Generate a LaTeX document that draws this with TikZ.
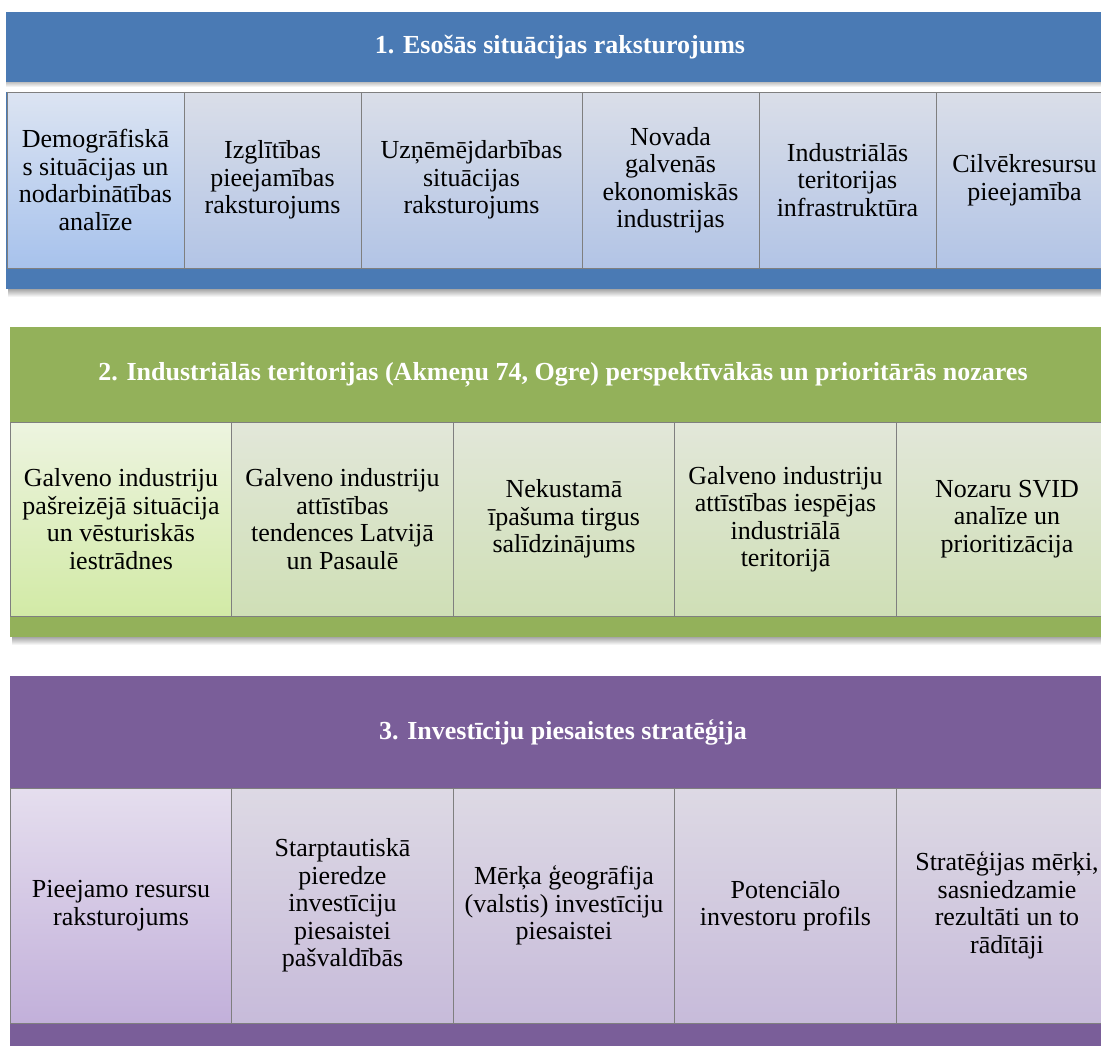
\documentclass[tikz,border=0pt]{standalone}
\usepackage{fontspec}
\setmainfont{LiberationSerif}[Extension=.ttf, UprightFont=*-Regular, BoldFont=*-Bold, ItalicFont=*-Italic, BoldItalicFont=*-BoldItalic]
\definecolor{hblue}{HTML}{4A7AB4}
\definecolor{hgreen}{HTML}{93B15A}
\definecolor{hpurple}{HTML}{7A5E99}
\definecolor{cellline}{HTML}{7F7F7F}
\definecolor{bAt}{HTML}{DCE4F2}\definecolor{bAb}{HTML}{A7C2EC}
\definecolor{bBt}{HTML}{DADEE8}\definecolor{bBb}{HTML}{B2C4E6}
\definecolor{gAt}{HTML}{EDF4E0}\definecolor{gAb}{HTML}{D2EAA6}
\definecolor{gBt}{HTML}{E2E7D9}\definecolor{gBb}{HTML}{CFDFB6}
\definecolor{pAt}{HTML}{E5DEEE}\definecolor{pAb}{HTML}{C2B0DA}
\definecolor{pBt}{HTML}{DDD9E4}\definecolor{pBb}{HTML}{C7BBDA}
\begin{document}
\begin{tikzpicture}[x=1pt,y=-1pt,
  cell/.style={draw=cellline, line width=0.8pt, align=center, inner sep=0pt,
    font=\fontsize{26}{27.5}\selectfont, text=black},
  c1/.style={cell, minimum height=176pt},
  c2/.style={cell, minimum height=194pt, minimum width=221.5pt},
  c3/.style={cell, minimum height=235pt, minimum width=221.5pt},
  blueA/.style={top color=bAt, bottom color=bAb},
  blueB/.style={top color=bBt, bottom color=bBb},
  greenA/.style={top color=gAt, bottom color=gAb},
  greenB/.style={top color=gBt, bottom color=gBb},
  purpA/.style={top color=pAt, bottom color=pAb},
  purpB/.style={top color=pBt, bottom color=pBb},
  head/.style={align=center, inner sep=0pt, text=white,
    font=\fontsize{26}{30}\selectfont\bfseries},
  shade/.style={top color=black!35, bottom color=white, draw=none}]
\clip (0,0) rectangle (1101,1045);
\fill[white] (0,0) rectangle (1101,1045);

% ---------- panel 1 ----------
\path[shade] (8,289) rectangle (1120,297);
\fill[hblue] (6,12) rectangle (1114,289);
\fill[white] (6,82) rectangle (1114,92);
\path[top color=black!25, bottom color=white] (6,82) rectangle (1114,87);
\node[head] (h1) at (560,47) {1. Esošās situācijas raksturojums};
\node[c1, blueA, minimum width=177pt] (a1) at (95.5,180) {Demogrāfiskā\\s situācijas un\\nodarbinātības\\analīze};
\node[c1, blueB, minimum width=177pt] (a2) at (272.5,180) {Izglītības\\pieejamības\\raksturojums};
\node[c1, blueB, minimum width=221pt] (a3) at (471.5,180) {Uzņēmējdarbības\\situācijas\\raksturojums};
\node[c1, blueB, minimum width=177pt] (a4) at (670.5,180) {Novada\\galvenās\\ekonomiskās\\industrijas};
\node[c1, blueB, minimum width=177pt] (a5) at (847.5,180) {Industriālās\\teritorijas\\infrastruktūra};
\node[c1, blueB, minimum width=177pt] (a6) at (1024.5,180) {Cilvēkresursu\\pieejamība};

% ---------- panel 2 ----------
\path[shade] (12,637) rectangle (1120,645);
\fill[hgreen] (10,327) rectangle (1117,637);
\node[head] (h2) at (563,374.5) {2. Industriālās teritorijas (Akmeņu 74, Ogre) perspektīvākās un prioritārās nozares};
\node[c2, greenA] (b1) at (121,519) {Galveno industriju\\pašreizējā situācija\\un vēsturiskās\\iestrādnes};
\node[c2, greenB] (b2) at (342.5,519) {Galveno industriju\\attīstības\\tendences Latvijā\\un Pasaulē};
\node[c2, greenB] (b3) at (564,519) {Nekustamā\\īpašuma tirgus\\salīdzinājums};
\node[c2, greenB] (b4) at (785.5,519) {Galveno industriju\\attīstības iespējas\\industriālā\\teritorijā};
\node[c2, greenB] (b5) at (1007,519) {Nozaru SVID\\analīze un\\prioritizācija};

% ---------- panel 3 ----------
\fill[hpurple] (10,676) rectangle (1117,1060);
\node[head] (h3) at (563,732.5) {3. Investīciju piesaistes stratēģija};
\node[c3, purpA] (d1) at (121,905.5) {Pieejamo resursu\\raksturojums};
\node[c3, purpB] (d2) at (342.5,905.5) {Starptautiskā\\pieredze\\investīciju\\piesaistei\\pašvaldībās};
\node[c3, purpB] (d3) at (564,905.5) {Mērķa ģeogrāfija\\(valstis) investīciju\\piesaistei};
\node[c3, purpB] (d4) at (785.5,905.5) {Potenciālo\\investoru profils};
\node[c3, purpB] (d5) at (1007,905.5) {Stratēģijas mērķi,\\sasniedzamie\\rezultāti un to\\rādītāji};
\end{tikzpicture}
\end{document}
